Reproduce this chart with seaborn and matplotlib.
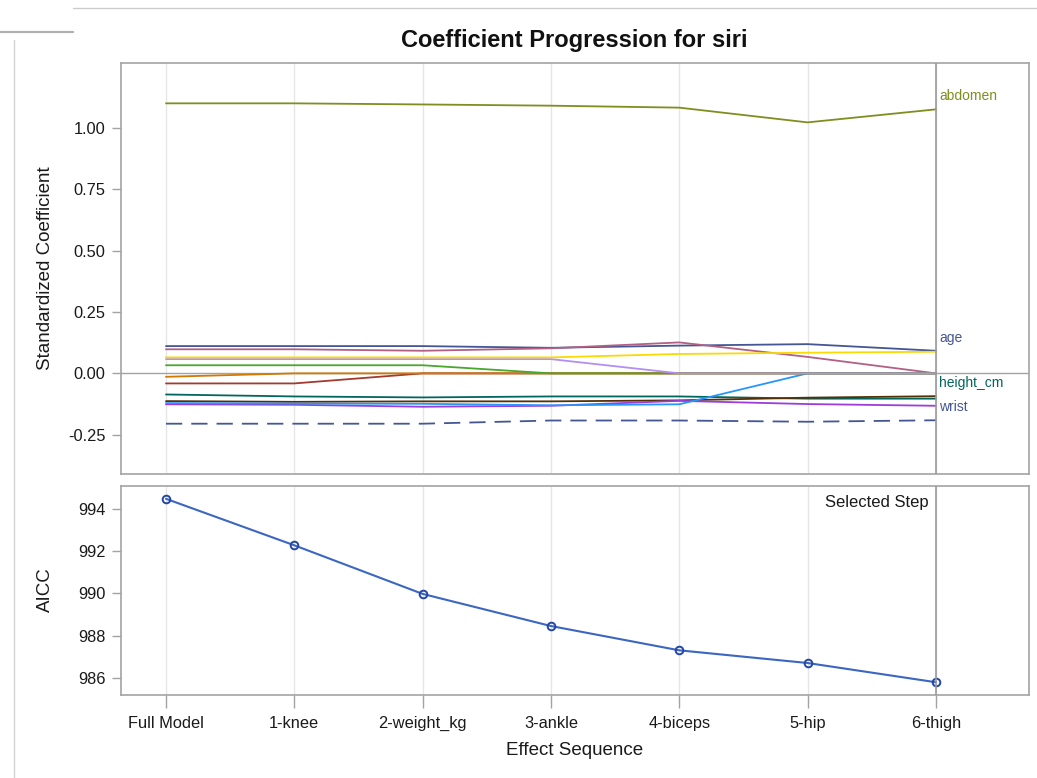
import numpy as np
import pandas as pd
import matplotlib
matplotlib.use("Agg")
import matplotlib.pyplot as plt
import seaborn as sns
from matplotlib.lines import Line2D

# ---------------- data ----------------
steps = ["Full Model", "1-knee", "2-weight_kg", "3-ankle", "4-biceps", "5-hip", "6-thigh"]

age       = [0.111, 0.111, 0.111, 0.104, 0.113, 0.119, 0.092]
weight_kg = [-0.041, -0.041, 0.0, 0.0, 0.0, 0.0, 0.0]
height_cm = [-0.086, -0.094, -0.098, -0.094, -0.094, -0.103, -0.103]
neck      = [-0.113, -0.116, -0.114, -0.114, -0.110, -0.099, -0.093]
chest     = [-0.126, -0.128, -0.136, -0.132, -0.112, -0.125, -0.132]
abdomen   = [1.0995, 1.0995, 1.095, 1.090, 1.082, 1.022, 1.075]
hip       = [-0.121, -0.123, -0.124, -0.130, -0.126, 0.0, 0.0]
thigh     = [0.098, 0.098, 0.092, 0.102, 0.126, 0.067, 0.0]
knee      = [-0.014, 0.0, 0.0, 0.0, 0.0, 0.0, 0.0]
ankle     = [0.033, 0.033, 0.033, 0.0, 0.0, 0.0, 0.0]
biceps    = [0.058, 0.058, 0.058, 0.058, 0.0, 0.0, 0.0]
forearm   = [0.065, 0.065, 0.065, 0.065, 0.079, 0.084, 0.088]
wrist     = [-0.205, -0.205, -0.205, -0.192, -0.192, -0.197, -0.191]

aicc = [994.47, 992.27, 989.97, 988.45, 987.30, 986.70, 985.79]

effects = ["age", "weight_kg", "height_cm", "neck", "chest", "abdomen", "hip",
           "thigh", "knee", "ankle", "biceps", "forearm", "wrist"]
coef_values = [age, weight_kg, height_cm, neck, chest, abdomen, hip,
               thigh, knee, ankle, biceps, forearm, wrist]
colors = ["#445694", "#A23A2E", "#01665E", "#543005", "#9D3CDB", "#7F8E1F",
          "#2597FA", "#B26084", "#D17800", "#47A82A", "#B38EF3", "#F9DA04",
          "#445694"]
dashed = ["wrist"]
labelled = {"abdomen": 1.128, "age": 0.146, "height_cm": -0.041, "wrist": -0.137}
selected_step = 6

# ---------------- style ----------------
sns.set_style("white")
plt.rcParams["font.family"] = ["Liberation Sans", "DejaVu Sans"]

frame_col = "#A3A3A3"
grid_col = "#E6E6E6"
txt_col = "#1A1A1A"

W, H = 1037, 778
fig = plt.figure(figsize=(W / 100, H / 100), dpi=100)

left_px, right_px = 120.7, 1028.5
def ax_rect(top_px, bot_px):
    return [left_px / W, 1 - bot_px / H, (right_px - left_px) / W, (bot_px - top_px) / H]

ax1 = fig.add_axes(ax_rect(62.7, 473.8))
ax2 = fig.add_axes(ax_rect(485.5, 694.7))

xpos = np.arange(len(steps))

rows = []
for name, vals in zip(effects, coef_values):
    for i, v in enumerate(vals):
        rows.append({"effect": name, "step": i, "coef": v})
coef_df = pd.DataFrame(rows)

for ax in (ax1, ax2):
    for xp in xpos:
        ax.axvline(xp, color=grid_col, lw=1.0, zorder=0)

ax1.axhline(0, color=frame_col, lw=1.0, zorder=1)

for name, col in zip(effects, colors):
    sub = coef_df[coef_df["effect"] == name]
    sns.lineplot(data=sub, x="step", y="coef", ax=ax1, color=col, lw=1.3,
                 linestyle=(0, (9, 5)) if name in dashed else "-", zorder=3,
                 legend=False, sort=False)

for name, col in zip(effects, colors):
    if name in labelled:
        ax1.text(selected_step + 0.025, labelled[name], name, color=col,
                 fontsize=10, ha="left", va="center", clip_on=False)

aicc_df = pd.DataFrame({"step": xpos, "aicc": aicc})
sns.lineplot(data=aicc_df, x="step", y="aicc", ax=ax2, color="#3B66C2", lw=1.5,
             marker="o", markersize=5.5, markerfacecolor="none",
             markeredgecolor="#2347A6", markeredgewidth=1.4, zorder=3, sort=False)

for ax in (ax1, ax2):
    ax.axvline(selected_step, color="#9A9A9A", lw=1.2, zorder=4)
    ax.set_xlim(-0.353, 6.722)
    for s in ax.spines.values():
        s.set_color(frame_col)
        s.set_linewidth(1.2)
    ax.set_facecolor("white")

ax1.set_ylim(-0.409, 1.265)
ax1.set_yticks([-0.25, 0, 0.25, 0.5, 0.75, 1.0])
ax1.set_yticklabels(["-0.25", "0.00", "0.25", "0.50", "0.75", "1.00"])
ax1.set_xticks([])
ax1.set_xlabel("")
ax1.set_ylabel("Standardized Coefficient", fontsize=13.5, color=txt_col)
ax1.yaxis.set_label_coords(-0.0735, 0.5)

ax2.set_ylim(985.2, 995.1)
ax2.set_yticks([986, 988, 990, 992, 994])
ax2.set_xticks(xpos)
ax2.set_xticklabels(steps)
ax2.set_ylabel("AICC", fontsize=13.5, color=txt_col)
ax2.yaxis.set_label_coords(-0.0735, 0.5)
ax2.set_xlabel("Effect Sequence", fontsize=13.5, color=txt_col)
ax2.xaxis.set_label_coords(0.5, -0.228)

for ax in (ax1, ax2):
    ax.tick_params(axis="y", which="both", left=True, length=6.5, width=1.0,
                   color=frame_col, labelsize=11.8, labelcolor=txt_col, pad=4.5,
                   direction="out")
ax2.tick_params(axis="x", bottom=True, length=9, width=1.0, color=frame_col,
                labelsize=11.8, labelcolor=txt_col, pad=6, direction="out")

ax2.text(selected_step - 0.06, 994.28, "Selected Step", ha="right",
         va="center", fontsize=12, color=txt_col)

fig.text((left_px + right_px) / 2 / W, 1 - 40 / H, "Coefficient Progression for siri",
         ha="center", va="center", fontsize=17, fontweight="bold", color="#111111")

# page decoration lines
fig.add_artist(Line2D([73 / W, 1.0], [1 - 7.5 / H, 1 - 7.5 / H], color="#CCCCCC", lw=1.0))
fig.add_artist(Line2D([0, 73 / W], [1 - 31.5 / H, 1 - 31.5 / H], color="#AFAFAF", lw=1.6))
fig.add_artist(Line2D([14 / W, 14 / W], [1 - 40 / H, 0], color="#D2D2D2", lw=1.0))

fig.savefig("out.png", dpi=100, facecolor="white")
